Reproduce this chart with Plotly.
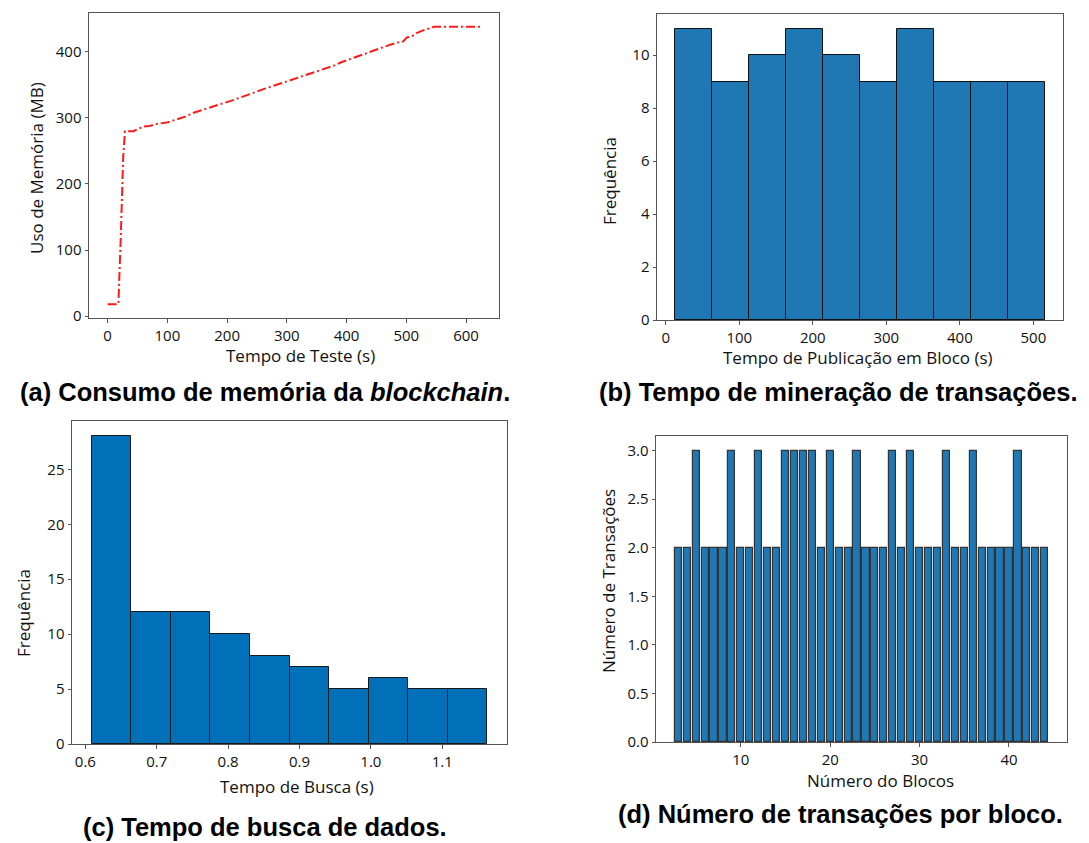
import plotly.graph_objects as go

# ---------------- data ----------------
# (a) memory usage over test time
mem_time = [0, 18, 22, 26, 29, 43, 50, 60, 70, 82, 99, 116, 130, 144, 158, 171, 185, 199, 210, 222,
            236, 250, 262, 272, 286, 300, 311, 322, 336, 350, 364, 378, 390, 402, 416, 430, 443, 456,
            470, 484, 495, 501, 510, 518, 525, 532, 540, 546, 580, 624]
mem_usage = [18, 18, 120, 240, 280, 280, 283, 287, 288, 291, 293, 298, 302, 308, 312, 316, 320, 323,
             327, 331, 336, 340, 344, 347, 351, 356, 359, 362, 367, 371, 375, 379, 384, 388, 392, 397,
             401, 406, 410, 414, 416, 422, 424, 429, 432, 434, 436, 438, 438, 438]

# (b) histogram of block publication time
pub_edges = [13.2, 63.4, 113.6, 163.8, 214.0, 264.2, 314.4, 364.6, 414.8, 465.0, 515.2]
pub_counts = [11, 9, 10, 11, 10, 9, 11, 9, 9, 9]

# (c) histogram of search time
search_edges = [0.609, 0.6644, 0.7198, 0.7752, 0.8306, 0.886, 0.9414, 0.9968, 1.0522, 1.1076, 1.163]
search_counts = [28, 12, 12, 10, 8, 7, 5, 6, 5, 5]

# (d) transactions per block
blocks = list(range(3, 45))
tx_per_block = [2, 2, 3, 2, 2, 2, 3, 2, 2, 3, 2, 2, 3, 3, 3, 3, 2, 3, 2, 2, 3, 2, 2, 2, 3, 2, 3,
                2, 2, 2, 3, 2, 2, 3, 2, 2, 2, 2, 3, 2, 2, 2]

captions = ["(a) Consumo de memória da <i>blockchain</i>.",
            "(b) Tempo de mineração de transações.",
            "(c) Tempo de busca de dados.",
            "(d) Número de transações por bloco."]
x_titles = ["Tempo de Teste (s)", "Tempo de Publicação em Bloco (s)",
            "Tempo de Busca (s)", "Número do Blocos"]
y_titles = ["Uso de Memória (MB)", "Frequência", "Frequência", "Número de Transações"]

# ---------------- helpers ----------------
def pad(lo, hi, f=0.05):
    s = hi - lo
    return [lo - f * s, hi + f * s]

def centers(edges):
    return [(edges[i] + edges[i + 1]) / 2 for i in range(len(edges) - 1)]

def widths(edges):
    return [edges[i + 1] - edges[i] for i in range(len(edges) - 1)]

FONT = "Open Sans"
W, H = 1089, 843

fig = go.Figure()

fig.add_trace(go.Scatter(x=mem_time, y=mem_usage, mode="lines",
                         line=dict(color="#ff1a1a", width=2, dash="9px,3px,2px,3px"),
                         xaxis="x", yaxis="y", showlegend=False))

fig.add_trace(go.Bar(x=centers(pub_edges), y=pub_counts, width=widths(pub_edges),
                     marker=dict(color="#1f77b4", line=dict(color="#111111", width=1)),
                     xaxis="x2", yaxis="y2", showlegend=False))

fig.add_trace(go.Bar(x=centers(search_edges), y=search_counts, width=widths(search_edges),
                     marker=dict(color="#0070b8", line=dict(color="#1a1a1a", width=1)),
                     xaxis="x3", yaxis="y3", showlegend=False))

fig.add_trace(go.Bar(x=blocks, y=tx_per_block, width=0.8,
                     marker=dict(color="#1f77b4", line=dict(color="#333333", width=1.2)),
                     xaxis="x4", yaxis="y4", showlegend=False))

def px_x(a, b):
    return [a / W, b / W]

def px_y(top, bottom):
    return [1 - bottom / H, 1 - top / H]

axis_common = dict(showline=True, linecolor="#555555", linewidth=1, mirror=True,
                   ticks="outside", ticklen=3.5, tickcolor="#555555", tickwidth=1,
                   showgrid=False, zeroline=False, automargin=False,
                   tickfont=dict(family=FONT, size=15, color="#111111"))
title_font = dict(family=FONT, size=17, color="#111111")

ya_hi = max(mem_usage); ya_lo = min(mem_usage)

fig.update_layout(
    width=W, height=H, margin=dict(l=0, r=0, t=0, b=0, autoexpand=False),
    paper_bgcolor="white", plot_bgcolor="white", bargap=0,
    xaxis=dict(axis_common, domain=px_x(89, 499), anchor="y",
               range=pad(min(mem_time), max(mem_time)), tickmode="array",
               tickvals=[0, 100, 200, 300, 400, 500, 600]),
    yaxis=dict(axis_common, domain=px_y(13, 318), anchor="x",
               range=pad(ya_lo, ya_hi), tickmode="array",
               tickvals=[0, 100, 200, 300, 400]),
    xaxis2=dict(axis_common, domain=px_x(657, 1063), anchor="y2",
                range=pad(pub_edges[0], pub_edges[-1]), tickmode="array",
                tickvals=[0, 100, 200, 300, 400, 500]),
    yaxis2=dict(axis_common, domain=px_y(14, 320), anchor="x2",
                range=[0, max(pub_counts) * 1.05], tickmode="array",
                tickvals=[0, 2, 4, 6, 8, 10]),
    xaxis3=dict(axis_common, domain=px_x(72, 507), anchor="y3",
                range=pad(search_edges[0], search_edges[-1]), tickmode="array",
                tickvals=[0.6, 0.7, 0.8, 0.9, 1.0, 1.1], tickformat=".1f"),
    yaxis3=dict(axis_common, domain=px_y(421, 744), anchor="x3",
                range=[0, max(search_counts) * 1.05], tickmode="array",
                tickvals=[0, 5, 10, 15, 20, 25]),
    xaxis4=dict(axis_common, domain=px_x(656, 1067), anchor="y4",
                range=pad(blocks[0] - 0.4, blocks[-1] + 0.4), tickmode="array",
                tickvals=[10, 20, 30, 40]),
    yaxis4=dict(axis_common, domain=px_y(436, 742), anchor="x4",
                range=[0, max(tx_per_block) * 1.05], tickmode="array",
                tickvals=[0, 0.5, 1.0, 1.5, 2.0, 2.5, 3.0], tickformat=".1f"),
)

def ann(text, cx, cy, font, angle=0, bpad=1):
    fig.add_annotation(text=text, x=cx / W, y=1 - cy / H, xref="paper", yref="paper",
                       showarrow=False, xanchor="center", yanchor="middle",
                       font=font, textangle=angle, borderpad=bpad)

# axis titles
xt_pos = [(300, 355), (858, 358), (297, 786), (880, 780)]
yt_pos = [(36, 168), (610, 181), (23, 613), (608, 581)]
for t, (cx, cy) in zip(x_titles, xt_pos):
    ann(t, cx, cy, title_font, bpad=0)
for t, (cx, cy) in zip(y_titles, yt_pos):
    ann(t, cx, cy, title_font, angle=-90, bpad=0)

# captions
cap_font = dict(family="Liberation Sans", size=25.5, color="#000000")
cap_pos = [(265, 392), (838, 392), (265, 827), (840, 814)]
for t, (cx, cy) in zip(captions, cap_pos):
    ann("<b>" + t + "</b>", cx, cy, cap_font)

fig.write_html("out.html", config={"displayModeBar": False},
               post_script="document.body.style.margin='0px';")
